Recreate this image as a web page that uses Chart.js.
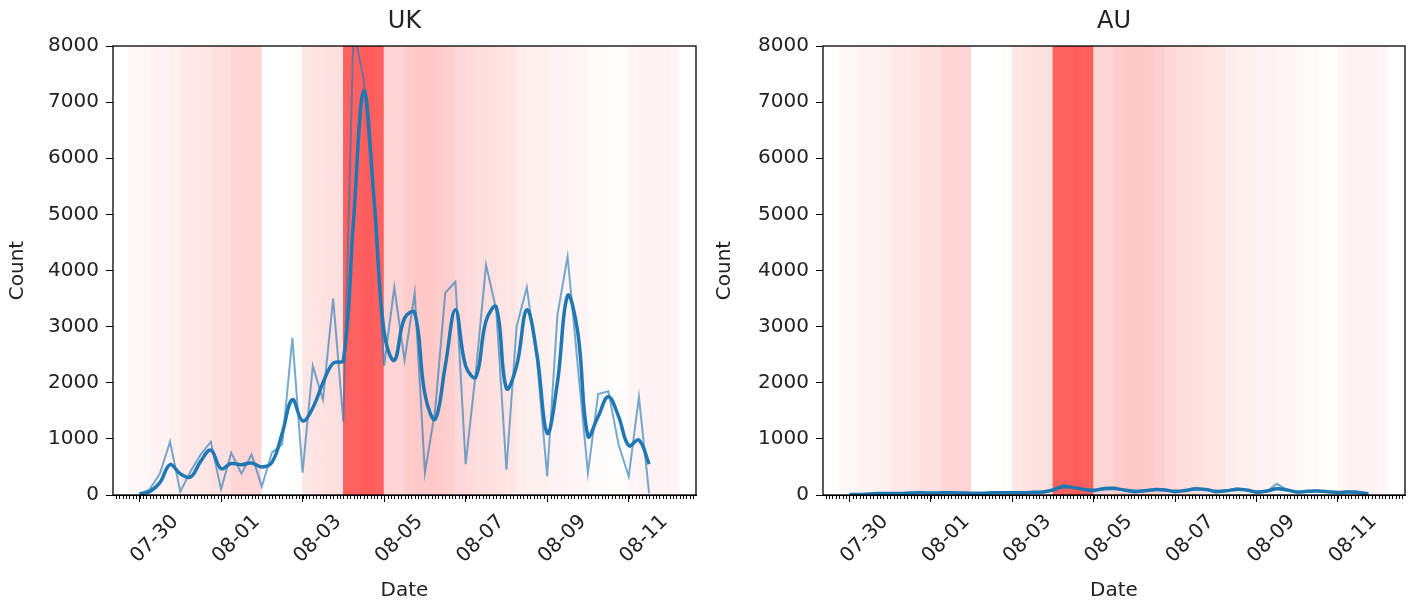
<!DOCTYPE html>
<html>
<head>
<meta charset="utf-8">
<script src="https://cdn.jsdelivr.net/npm/chart.js@4"></script>
<style>
html, body { margin:0; padding:0; background:#fff; }
.box { position:absolute; top:0; height:606px; }
</style>
</head>
<body>
<div class="box" style="left:0;width:707px"><canvas id="ukChart"></canvas></div>
<div class="box" style="left:707px;width:708px"><canvas id="auChart"></canvas></div>
<script>
// time axis is in days since 07-28 00:00
const tickDays = [2, 4, 6, 8, 10, 12, 14];
const tickLabels = ['07-30', '08-01', '08-03', '08-05', '08-07', '08-09', '08-11'];
const firstSample = 1.0;   // 07-29 00:00
const sampleStep = 0.25;   // 6 hours

const ukRaw = [20, 100, 380, 950, 60, 420, 720, 950, 100, 750, 380, 720, 150, 760, 900, 2800,
  400, 2300, 1700, 3500, 1300, 8300, 7400, 5200, 2300, 3700, 2400, 3600, 400, 1500, 3600, 3800,
  550, 2200, 4100, 3300, 450, 3000, 3700, 2400, 330, 3200, 4250, 2300, 390, 1800, 1850, 900,
  330, 1750, 30];
const ukSmooth = [20, 60, 220, 540, 380, 320, 600, 800, 470, 560, 540, 570, 500, 580, 1100, 1700,
  1320, 1550, 2000, 2350, 2400, 4900, 7200, 5300, 2900, 2400, 3150, 3250, 1800, 1350, 2300, 3300,
  2300, 2100, 3100, 3350, 1900, 2300, 3300, 2500, 1100, 2000, 3550, 2900, 1050, 1400, 1750, 1400,
  880, 980, 550];
const auRaw = [5, 10, 20, 30, 20, 25, 40, 45, 30, 40, 35, 40, 25, 30, 35, 50,
  30, 45, 40, 60, 100, 180, 140, 90, 60, 130, 140, 80, 40, 70, 110, 90,
  40, 80, 130, 100, 40, 70, 120, 90, 30, 60, 200, 90, 40, 70, 80, 60,
  30, 70, 60, 20];
const auSmooth = [5, 10, 18, 25, 25, 28, 35, 40, 35, 38, 38, 36, 32, 33, 38, 42,
  40, 42, 48, 55, 90, 145, 135, 100, 85, 110, 115, 90, 65, 75, 95, 90,
  65, 80, 105, 100, 65, 75, 100, 90, 55, 70, 110, 90, 55, 65, 70, 60,
  45, 55, 45, 25];

// red background shading, one value per 6-hour slot starting 07-28 06:00
const bandFirst = 0.25;
const bandAlpha = [0, 0, 0.03, 0.03, 0.05, 0.05, 0.06, 0.09, 0.09, 0.10, 0.12, 0.12, 0.16, 0.17, 0.17,
  0, 0, 0, 0.01, 0.10, 0.11, 0.12, 0.13, 0.62, 0.62, 0.64, 0.62, 0.17, 0.17, 0.20, 0.21, 0.21, 0.20,
  0.19, 0.15, 0.14, 0.13, 0.12, 0.11, 0.10, 0.07, 0.06, 0.06, 0.05, 0.05, 0.04, 0.04, 0.02, 0.02,
  0.01, 0.01, 0.04, 0.05, 0.05, 0.05, 0.04, 0, 0];

Chart.defaults.font.family = '"DejaVu Sans"';
Chart.defaults.font.size = 20;
Chart.defaults.color = '#222';

const toPoints = vals => vals.map((v, i) => ({x: firstSample + i * sampleStep, y: v}));
const bandPoints = bandAlpha.map((a, i) => ({x: bandFirst + i * 0.25 + 0.125, y: 1}));
// red over white, made opaque so touching bars don't leave seams
const bandColors = bandAlpha.map(a => {
  const g = Math.round(255 * (1 - a));
  return 'rgb(255,' + g + ',' + g + ')';
});

const framePlugin = {
  id: 'frame',
  afterDraw(chart, args, opts) {
    const {ctx, chartArea: a} = chart;
    const x = chart.scales.x;
    ctx.save();
    ctx.strokeStyle = '#000';
    ctx.lineWidth = 1;
    ctx.beginPath();
    for (let k = Math.ceil(x.min * 12); k <= Math.floor(x.max * 12); k++) {
      const px = Math.round(x.getPixelForValue(k / 12)) + 0.5;
      ctx.moveTo(px, a.bottom);
      ctx.lineTo(px, a.bottom + 4);
    }
    ctx.stroke();
    ctx.lineWidth = 1.3;
    ctx.strokeRect(a.left, a.top, a.right - a.left, a.bottom - a.top);
    ctx.fillStyle = '#222';
    ctx.font = '24px "DejaVu Sans"';
    ctx.textAlign = 'center';
    ctx.textBaseline = 'middle';
    ctx.fillText(opts.text, (a.left + a.right) / 2, 22);
    ctx.restore();
  }
};

function makeChart(id, title, raw, smooth, yWidth, padRight) {
  new Chart(document.getElementById(id), {
    type: 'line',
    data: {
      datasets: [{
        type: 'bar',
        data: bandPoints,
        backgroundColor: bandColors,
        borderWidth: 0,
        barPercentage: 1,
        categoryPercentage: 1,
        yAxisID: 'band',
        order: 10
      }, {
        data: toPoints(raw),
        borderColor: 'rgba(31,119,180,0.62)',
        borderWidth: 2,
        pointRadius: 0,
        tension: 0,
        order: 1
      }, {
        data: toPoints(smooth),
        borderColor: '#1f77b4',
        borderWidth: 3.5,
        pointRadius: 0,
        tension: 0.4,
        order: 0
      }]
    },
    options: {
      responsive: true,
      maintainAspectRatio: false,
      animation: false,
      layout: { padding: { top: 46, right: padRight, bottom: 0, left: 0 } },
      plugins: { legend: { display: false }, tooltip: { enabled: false }, frame: { text: title } },
      scales: {
        x: {
          type: 'linear',
          min: 0.35,
          max: 14.65,
          offset: false,
          afterBuildTicks: s => { s.ticks = tickDays.map(v => ({value: v})); },
          afterFit: s => { s.height = 111; },
          ticks: {
            autoSkip: false,
            minRotation: 45,
            maxRotation: 45,
            padding: 8,
            labelOffset: -5,
            callback: v => tickLabels[tickDays.indexOf(v)]
          },
          grid: { drawOnChartArea: false, tickLength: 7, tickColor: '#000' },
          border: { color: '#000' },
          title: { display: true, text: 'Date', padding: { top: 0, bottom: 3 } }
        },
        y: {
          min: 0,
          max: 8000,
          afterFit: s => { s.width = yWidth; },
          ticks: { stepSize: 1000, padding: 7, callback: v => String(v) },
          grid: { drawOnChartArea: false, tickLength: 7, tickColor: '#000' },
          border: { color: '#000' },
          title: { display: true, text: 'Count', padding: { top: 6, bottom: 0 } }
        },
        band: { display: false, min: 0, max: 1 }
      }
    },
    plugins: [framePlugin]
  });
}

makeChart('ukChart', 'UK', ukRaw, ukSmooth, 113, 11);
makeChart('auChart', 'AU', auRaw, auSmooth, 116, 10);
</script>
</body>
</html>
